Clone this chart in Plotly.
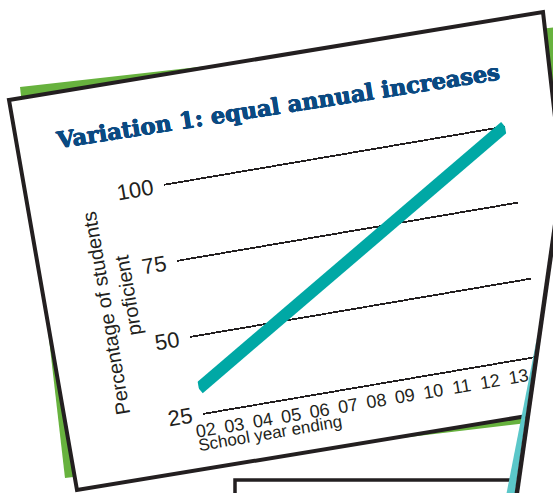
import plotly.graph_objects as go

# ---------------- data ----------------
years = [2002, 2003, 2004, 2005, 2006, 2007, 2008, 2009, 2010, 2011, 2012, 2013, 2014]
proficient = [33.0, 38.6, 44.2, 49.8, 55.3, 60.9, 66.5, 72.1, 77.7, 83.3, 88.8, 94.4, 100.0]
tick_years = [2002, 2003, 2004, 2005, 2006, 2007, 2008, 2009, 2010, 2011, 2012, 2013]
tick_labels = ["02", "03", "04", "05", "06", "07", "08", "09", "10", "11", "12", "13"]
y_ticks = [25, 50, 75, 100]
y_tick_labels = ["25", "50", "75", "100"]
title_text = "Variation 1: equal annual increases"
x_title = "School year ending"
y_title_line1 = "Percentage of students"
y_title_line2 = "proficient"

# ---------------- styling / geometry ----------------
W, H = 553, 493
INK = "#231f20"
TITLE_C = "#0b4a82"
TEAL = "#00a8a5"
GREEN = "#67b23e"
CYAN = "#5bc7c9"
SANS = "Liberation Sans, Arial, sans-serif"

ANGLE = -9.7                 # tilt of the chart sheet (degrees)
OX, OY = 203.0, 413.0        # pixel position of the plot's bottom-left corner
PX_YEAR = 28.83
PX_UNIT = 231.5 / 75.0
X_RANGE = [2002, 2014]
Y_RANGE = [25, 103]

x0_px = OX
x1_px = OX + (X_RANGE[1] - X_RANGE[0]) * PX_YEAR
y_top_px = OY - (Y_RANGE[1] - Y_RANGE[0]) * PX_UNIT


def px(x):
    return x / W


def py(y):
    return 1 - y / H


def path(points, close=True):
    s = "M " + " L ".join(f"{px(x):.5f},{py(y):.5f}" for x, y in points)
    return s + (" Z" if close else "")


# decorative sheets of paper (screen pixels)
green_sheet = [(20, 87), (610, 21), (620, 412), (65, 478)]
white_sheet = [(9, 100), (543, 12), (588, 406), (77, 490)]
other_sheet = [(558, 205), (640, 205), (640, 500), (515.9, 500)]
other_edge = [(558, 205), (515.9, 500)]
cyan_edge = [(537.5, 335), (514.5, 496), (506, 496)]
box_edge = [(235, 500), (235, 480), (512, 480)]

shapes = [
    dict(type="path", path=path(green_sheet), xref="paper", yref="paper",
         fillcolor=GREEN, line=dict(width=0), layer="below"),
    dict(type="path", path=path(white_sheet), xref="paper", yref="paper",
         fillcolor="white", line=dict(color=INK, width=4), layer="below"),
    dict(type="path", path=path(box_edge, close=False), xref="paper", yref="paper",
         line=dict(color=INK, width=3.5), layer="above"),
    dict(type="path", path=path(other_sheet), xref="paper", yref="paper",
         fillcolor="white", line=dict(width=0), layer="above"),
    dict(type="path", path=path(cyan_edge), xref="paper", yref="paper",
         fillcolor=CYAN, line=dict(width=0), layer="above"),
    dict(type="path", path=path(other_edge, close=False), xref="paper", yref="paper",
         line=dict(color=INK, width=4.5), layer="above"),
]

fig = go.Figure()
fig.add_trace(go.Scatter(
    x=years, y=proficient, mode="lines",
    line=dict(color=TEAL, width=12),
    cliponaxis=False, hoverinfo="skip",
))

bold_shadow = (f"0.45px 0 0 {TITLE_C}, -0.45px 0 0 {TITLE_C}, "
               f"0 0.35px 0 {TITLE_C}, 0 -0.35px 0 {TITLE_C}")

annotations = [
    dict(text=title_text, xref="paper", yref="paper",
         x=px(328.0), y=py(122.5), xanchor="center", yanchor="middle",
         showarrow=False, textangle=0.85,
         font=dict(family="DejaVu Serif", size=22.6, color=TITLE_C, weight="bold",
                   shadow=bold_shadow)),
    dict(text=x_title, xref="paper", yref="paper",
         x=px(190.5), y=py(444.0), xanchor="left", yanchor="middle",
         showarrow=False, font=dict(family=SANS, size=17, color=INK)),
    dict(text=y_title_line1, xref="paper", yref="paper",
         x=px(124.2), y=py(298.0), xanchor="center", yanchor="middle",
         showarrow=False, textangle=-90, font=dict(family=SANS, size=20, color=INK)),
    dict(text=y_title_line2, xref="paper", yref="paper",
         x=px(149.0), y=py(284.0), xanchor="center", yanchor="middle",
         showarrow=False, textangle=-90, font=dict(family=SANS, size=20, color=INK)),
]

fig.update_layout(
    width=W, height=H,
    margin=dict(l=0, r=0, t=0, b=0, pad=0, autoexpand=False),
    paper_bgcolor="white",
    plot_bgcolor="rgba(0,0,0,0)",
    showlegend=False,
    hovermode=False,
    shapes=shapes,
    annotations=annotations,
    xaxis=dict(
        domain=[x0_px / W, x1_px / W], range=X_RANGE,
        tickmode="array", tickvals=tick_years, ticktext=tick_labels,
        showgrid=False, zeroline=False, automargin=False,
        showline=True, linecolor=INK, linewidth=1.8,
        ticks="", ticklabelstandoff=0,
        tickfont=dict(family=SANS, size=18, color=INK),
        fixedrange=True,
    ),
    yaxis=dict(
        domain=[1 - OY / H, 1 - y_top_px / H], range=Y_RANGE,
        tickmode="array", tickvals=y_ticks, ticktext=y_tick_labels,
        showgrid=True, gridcolor=INK, gridwidth=1.8,
        zeroline=False, showline=False, automargin=False,
        ticks="", ticklabelstandoff=10,
        tickfont=dict(family=SANS, size=22, color=INK),
        fixedrange=True,
    ),
)

# page without body margin, and the chart tilted like the photographed sheet
rotate_js = (
    "document.documentElement.style.margin='0';"
    "document.body.style.margin='0';"
    "document.body.style.padding='0';"
    "document.body.style.overflow='hidden';"
    "var gd = document.getElementById('{plot_id}');"
    "var tf = 'rotate(" + str(ANGLE) + " " + str(OX) + " " + str(OY) + ")';"
    "['.cartesianlayer', '.infolayer'].forEach(function(s){"
    "  gd.querySelectorAll(s).forEach(function(g){ g.setAttribute('transform', tf); });"
    "});"
)

fig.write_html("out.html", post_script=rotate_js, config={"staticPlot": True})
